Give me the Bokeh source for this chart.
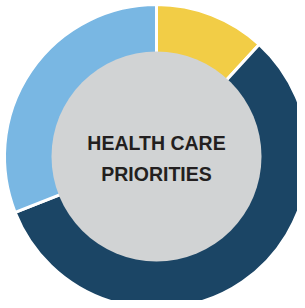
import numpy as np
from bokeh.plotting import figure
from bokeh.models import ColumnDataSource, Range1d
from bokeh.core.properties import value
from bokeh.embed import file_html
from bokeh.resources import INLINE

# data
categories = ["Yellow", "Dark blue", "Light blue"]
shares = [11.8, 57.2, 31.0]
colors = ["#F2CD46", "#1B4565", "#79B7E3"]
title_lines = ["HEALTH CARE", "PRIORITIES"]

fr = np.array(shares) / sum(shares)
cum = np.concatenate([[0], np.cumsum(fr)])
start = np.pi / 2 - cum[:-1] * 2 * np.pi
end = np.pi / 2 - cum[1:] * 2 * np.pi

src = ColumnDataSource(dict(cat=categories, start=start, end=end, color=colors))

W, H = 297, 300
CX, CY = 156, 156
p = figure(width=W, height=H, output_backend="svg", toolbar_location=None,
           x_range=Range1d(-CX, W - CX), y_range=Range1d(-(H - CY), CY),
           min_border=0, outline_line_color=None)
p.axis.visible = False
p.grid.visible = False
p.background_fill_color = "white"
p.border_fill_color = "white"

p.annular_wedge(x=0, y=0, inner_radius=90, outer_radius=152,
                start_angle="start", end_angle="end", direction="clock",
                fill_color="color", line_color="white", line_width=3, source=src)
p.circle(x=0, y=0, radius=105, fill_color="#D1D3D4", line_color=None)

p.text(x=[0, 0], y=[14, -17], text=title_lines,
       text_font=value("Liberation Sans"), text_font_style="bold",
       text_font_size="19.5px", text_color="#231F20",
       text_align="center", text_baseline="middle")

open("out.html", "w").write(file_html(p, INLINE))
